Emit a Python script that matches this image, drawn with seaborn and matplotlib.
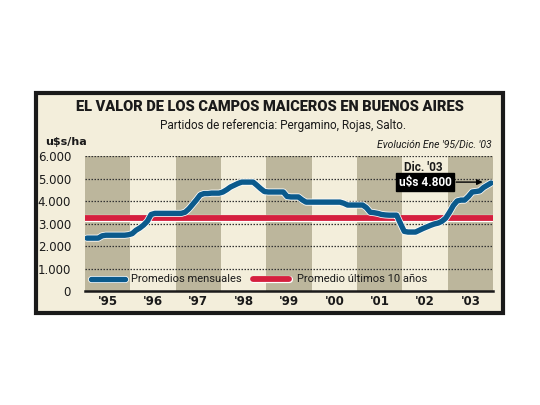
import numpy as np
import pandas as pd
import matplotlib
matplotlib.use("Agg")
import matplotlib.pyplot as plt
import matplotlib.patheffects as pe
from matplotlib.patches import Rectangle
import seaborn as sns

# ---- data ----
years = ["'95", "'96", "'97", "'98", "'99", "'00", "'01", "'02", "'03"]
v1995 = [2350, 2350, 2350, 2350, 2450, 2480, 2480, 2480, 2480, 2480, 2480, 2500]
v1996 = [2550, 2700, 2800, 2930, 3100, 3400, 3450, 3450, 3450, 3450, 3450, 3450]
v1997 = [3450, 3450, 3500, 3650, 3850, 4050, 4270, 4330, 4330, 4350, 4350, 4350]
v1998 = [4400, 4500, 4620, 4700, 4780, 4840, 4840, 4840, 4840, 4700, 4550, 4420]
v1999 = [4400, 4400, 4400, 4400, 4400, 4200, 4180, 4180, 4180, 4050, 3950, 3950]
v2000 = [3950, 3950, 3950, 3950, 3950, 3950, 3950, 3950, 3900, 3820, 3820, 3820]
v2001 = [3820, 3820, 3700, 3500, 3480, 3450, 3400, 3380, 3370, 3370, 3370, 3000]
v2002 = [2650, 2620, 2620, 2620, 2700, 2780, 2850, 2920, 2980, 3020, 3100, 3240]
v2003 = [3500, 3800, 4000, 4040, 4040, 4200, 4400, 4420, 4450, 4600, 4700, 4800]
promedio_10 = 3250
y_ticks = [0, 1000, 2000, 3000, 4000, 5000, 6000]
y_tick_labels = ["0", "1.000", "2.000", "3.000", "4.000", "5.000", "6.000"]

monthly = v1995 + v1996 + v1997 + v1998 + v1999 + v2000 + v2001 + v2002 + v2003
df = pd.DataFrame({"mes": np.arange(len(monthly)) + 0.5, "valor": monthly})
n_months = len(monthly)

# ---- style ----
sns.set_theme(style="white")
plt.rcParams["font.family"] = ["DejaVu Sans"]
NARROW = ["Roboto", "DejaVu Sans"]

BG = "#f3eedb"
SHADE = "#bcb69c"
BLUE = "#0b5a8c"
RED = "#d51f3e"
DARK = "#1a1a1a"

fig = plt.figure(figsize=(5.4, 4.05), dpi=100)
fig.patch.set_facecolor("white")

# outer frame
frame = Rectangle((36 / 540, 1 - 313 / 405), 467 / 540, 220 / 405,
                  transform=fig.transFigure, facecolor=BG,
                  edgecolor=DARK, linewidth=3, zorder=-10)
fig.patches.append(frame)

ax = fig.add_axes([85 / 540, 1 - 291 / 405, 408 / 540, 135 / 405])
ax.set_zorder(1)
ax.patch.set_alpha(0)

# year bands
for i in range(len(years)):
    if i % 2 == 0:
        ax.axvspan(i * 12, (i + 1) * 12, color=SHADE, lw=0, zorder=0)

# grid lines
for t in y_ticks[1:]:
    ax.axhline(t, color="#333333", lw=0.9, ls=(0, (1.2, 1.2)), zorder=1)

# average line
ax.axhline(promedio_10, color=RED, lw=4.2, solid_capstyle="round", zorder=2,
           path_effects=[pe.Stroke(linewidth=5.2, foreground="white"), pe.Normal()])

sns.lineplot(data=df, x="mes", y="valor", ax=ax, color=BLUE, lw=3.9, zorder=3,
             path_effects=[pe.Stroke(linewidth=5.0, foreground="white"), pe.Normal()])
ax.lines[-1].set_solid_capstyle("round")

ax.set_xlim(0, n_months)
ax.set_ylim(0, 6000)
ax.set_xlabel("")
ax.set_ylabel("")
ax.set_yticks(y_ticks)
ax.set_yticklabels(y_tick_labels, fontsize=8.5, color=DARK)
ax.set_xticks([i * 12 + 6 for i in range(len(years))])
ax.set_xticklabels(years, fontsize=8.5, fontweight="bold", color=DARK)
ax.tick_params(axis="x", length=0, pad=3)
ax.tick_params(axis="y", length=0, pad=10)
for s in ["top", "right", "left"]:
    ax.spines[s].set_visible(False)
ax.spines["bottom"].set_color(DARK)
ax.spines["bottom"].set_linewidth(1.8)

# legend (drawn manually)
ax.plot([1.5, 10.5], [530, 530], color=BLUE, lw=3.9, solid_capstyle="round",
        path_effects=[pe.Stroke(linewidth=5.0, foreground="white"), pe.Normal()],
        clip_on=False, zorder=4)
ax.text(12.2, 530, "Promedios mensuales", fontsize=8, va="center", ha="left",
        color=DARK, family=NARROW)
ax.plot([44.5, 54], [530, 530], color=RED, lw=4.2, solid_capstyle="round",
        path_effects=[pe.Stroke(linewidth=5.2, foreground="white"), pe.Normal()],
        clip_on=False, zorder=4)
ax.text(56, 530, "Promedio últimos 10 años", fontsize=8, va="center",
        ha="left", color=DARK, family=NARROW)

# annotation
ax.text(89.5, 5470, "Dic. '03", fontsize=8.5, fontweight="bold", ha="center",
        va="center", color=DARK, family=NARROW)
ax.text(90, 4840, "u$s 4.800", fontsize=8.5, fontweight="bold", ha="center",
        va="center", color="white", family=NARROW,
        bbox=dict(boxstyle="square,pad=0.2", facecolor="black", edgecolor="black"))
ax.annotate("", xy=(106, 4840), xytext=(97.5, 4840),
            arrowprops=dict(arrowstyle="-|>", color="black", lw=1, mutation_scale=8))

# titles
fig.text(270 / 540, 1 - 107 / 405, "EL VALOR DE LOS CAMPOS MAICEROS EN BUENOS AIRES",
         fontsize=10.5, fontweight="heavy", ha="center", va="center", color=DARK,
         family=NARROW)
fig.text(160 / 540, 1 - 125 / 405, "Partidos de referencia: Pergamino, Rojas, Salto.",
         fontsize=8.5, ha="left", va="center", color=DARK, family=NARROW)
fig.text(45 / 540, 1 - 142 / 405, "u$s/ha", fontsize=8, fontweight="bold",
         ha="left", va="center", color=DARK)
fig.text(492 / 540, 1 - 145 / 405, "Evolución Ene '95/Dic. '03", fontsize=7.5,
         style="italic", ha="right", va="center", color=DARK, family=NARROW)

fig.savefig("out.png", dpi=100, facecolor=fig.get_facecolor())
